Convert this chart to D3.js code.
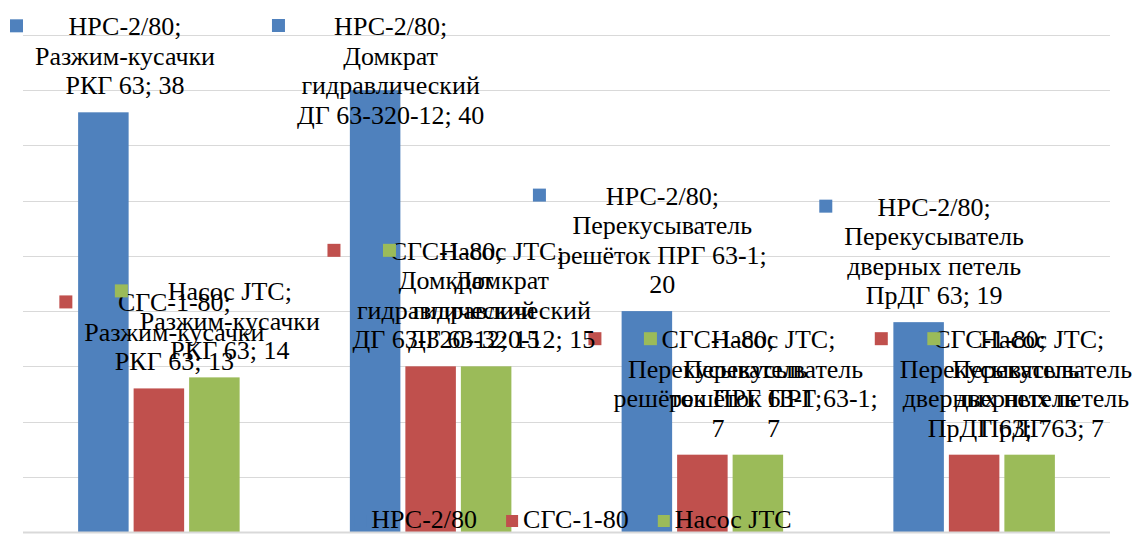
<!DOCTYPE html>
<html><head><meta charset="utf-8">
<script src="https://cdn.jsdelivr.net/npm/d3@7"></script>
<style>
body{margin:0;background:#fff}
svg{display:block}
text{font-family:"Liberation Serif","Times New Roman",serif;fill:#000}
</style>
</head><body>
<svg id="c" width="1134" height="534"></svg>
<script>
// ---- data ----
const categories = ["Разжим-кусачки РКГ 63", "Домкрат гидравлический ДГ 63-320-12", "Перекусыватель решёток ПРГ 63-1", "Перекусыватель дверных петель ПрДГ 63"];
const seriesNames = ["НРС-2/80", "СГС-1-80", "Насос JTC"];
const nrsValues = [38, 40, 20, 19];
const sgsValues = [13, 15, 7, 7];
const jtcValues = [14, 15, 7, 7];
const yTicks = [0, 5, 10, 15, 20, 25, 30, 35, 40, 45];
const seriesColors = ["#4F81BD", "#C0504D", "#9BBB59"];

const seriesValues = [nrsValues, sgsValues, jtcValues];

// ---- layout ----
const W = 1134, H = 534;
const plot = {left: 23, right: 1110, top: 35, bottom: 532};
const svg = d3.select("#c");

const x0 = d3.scaleBand().domain(categories).range([plot.left, plot.right]).paddingInner(0).paddingOuter(0);
const x1 = d3.scaleBand().domain(seriesNames).range([0, x0.bandwidth()]).paddingInner(0.09).paddingOuter(0.993);
const y = d3.scaleLinear().domain([0, 45]).range([plot.bottom, plot.top]);
const color = d3.scaleOrdinal().domain(seriesNames).range(seriesColors);

// gridlines
svg.append("g").selectAll("line").data(yTicks.filter(t => t > 0)).join("line")
  .attr("x1", plot.left).attr("x2", plot.right)
  .attr("y1", d => Math.round(y(d)) + 0.5).attr("y2", d => Math.round(y(d)) + 0.5)
  .attr("stroke", "#d9d9d9").attr("stroke-width", 1.2);

// bars
const data = [];
seriesNames.forEach((s, si) => categories.forEach((c, ci) => data.push({s, si, c, ci, v: seriesValues[si][ci]})));

svg.append("g").selectAll("rect").data(data).join("rect")
  .attr("x", d => x0(d.c) + x1(d.s))
  .attr("width", x1.bandwidth())
  .attr("y", d => y(d.v))
  .attr("height", d => y(0) - y(d.v))
  .attr("fill", d => color(d.s));

// axis line
svg.append("line").attr("x1", plot.left).attr("x2", plot.right)
  .attr("y1", plot.bottom + 0.5).attr("y2", plot.bottom + 0.5)
  .attr("stroke", "#d9d9d9").attr("stroke-width", 2);

// ---- data labels ----
const fontSize = 26, lineH = 29.5, maxW = 212, keySize = 13, keyGap = 12;
const meas = svg.append("text").attr("font-size", fontSize).attr("x", -1000).attr("y", -1000);
function tw(str) { meas.text(str); return meas.node().getComputedTextLength(); }
function wrap(str) {
  const words = str.split(" ");
  const lines = [];
  let cur = "";
  words.forEach(w => {
    const t = cur ? cur + " " + w : w;
    if (cur && tw(t) > maxW) { lines.push(cur); cur = w; } else cur = t;
  });
  if (cur) lines.push(cur);
  return lines;
}

const labelG = svg.append("g");
data.forEach(d => {
  const lines = [d.s + ";"].concat(wrap(d.c + "; " + d.v));
  const widths = lines.map(tw);
  const textW = d3.max(widths);
  const boxW = keySize + keyGap + textW;
  const barCx = x0(d.c) + x1(d.s) + x1.bandwidth() / 2;
  let boxL = barCx + 3 - boxW / 2;
  boxL = Math.max(10, Math.min(W - 2 - boxW, boxL));
  const textCx = boxL + keySize + keyGap + textW / 2;
  let lastBase = y(d.v) - 18;
  let firstBase = lastBase - (lines.length - 1) * lineH;
  if (firstBase < 35) firstBase = 35;
  labelG.append("rect")
    .attr("x", boxL).attr("y", firstBase - 16)
    .attr("width", keySize).attr("height", keySize)
    .attr("fill", color(d.s));
  const t = labelG.append("text").attr("font-size", fontSize).attr("text-anchor", "middle");
  lines.forEach((ln, i) => {
    t.append("tspan").attr("x", textCx).attr("y", firstBase + i * lineH).text(ln);
  });
});
meas.remove();

// ---- legend ----
const legFont = 26, legKey = 12, legGap = 5, legSpace = 29, legBase = 528;
const legW = seriesNames.map(s => { const m = svg.append("text").attr("font-size", legFont).text(s); const w = m.node().getComputedTextLength(); m.remove(); return w; });
const totalW = d3.sum(legW) + seriesNames.length * (legKey + legGap) + (seriesNames.length - 1) * legSpace;
let lx = 573 - totalW / 2;
const legG = svg.append("g");
seriesNames.forEach((s, i) => {
  legG.append("rect").attr("x", lx).attr("y", legBase - 13).attr("width", legKey).attr("height", legKey).attr("fill", color(s));
  legG.append("text").attr("x", lx + legKey + legGap).attr("y", legBase).attr("font-size", legFont).text(s);
  lx += legKey + legGap + legW[i] + legSpace;
});
</script>
</body></html>
